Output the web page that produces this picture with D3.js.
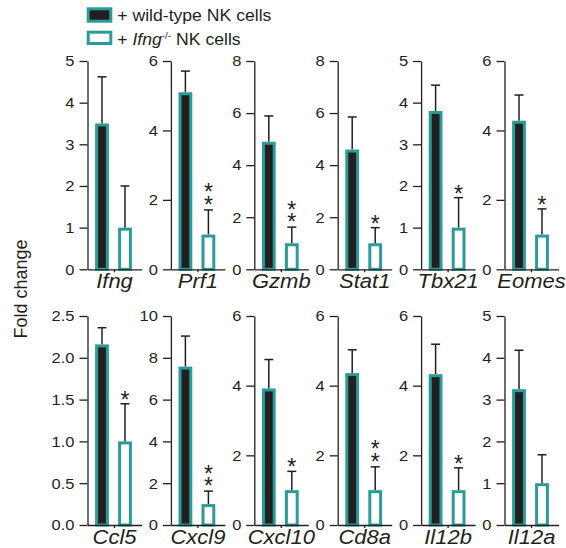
<!DOCTYPE html>
<html>
<head>
<meta charset="utf-8">
<script src="https://cdn.jsdelivr.net/npm/d3@7"></script>
<style>
  body { margin: 0; background: #fff; }
  svg text { font-family: 'Liberation Sans', Arial, sans-serif; fill: #231f20; }
  svg text.star { writing-mode: vertical-rl; text-orientation: upright; }
</style>
</head>
<body>
<div id="chart"></div>
<script>
'use strict'

// values
const genes = ['Ifng', 'Prf1', 'Gzmb', 'Stat1', 'Tbx21', 'Eomes', 'Ccl5', 'Cxcl9', 'Cxcl10', 'Cd8a', 'Il12b', 'Il12a']
const wtMean = [3.5, 5.1, 4.9, 4.6, 3.8, 4.28, 2.16, 7.58, 3.92, 4.36, 4.33, 3.25]
const wtErr = [1.12, 0.61, 0.99, 1.25, 0.62, 0.74, 0.2, 1.46, 0.83, 0.67, 0.86, 0.93]
const koMean = [1, 1, 1, 1, 1, 1, 1, 1, 1, 1, 1, 1]
const koErr = [1.0, 0.71, 0.62, 0.6, 0.72, 0.74, 0.45, 0.62, 0.54, 0.67, 0.64, 0.68]
const yMax = [5, 6, 8, 8, 5, 6, 2.5, 10, 6, 6, 6, 5]
const yStep = [1, 2, 2, 2, 1, 2, 0.5, 2, 2, 2, 2, 1]
const stars = ['', '**', '**', '*', '*', '*', '*', '**', '*', '**', '*', '']
const groups = ['wt', 'ko']

const teal = '#2a9c98'
const dark = '#231f20'
const stretchK = 1.1

const width = 566
const height = 548
const rows = [{ top: 61, bottom: 269.3 }, { top: 316, bottom: 525 }]
const colX = (c) => 87.5 + c * 83.4
const panelW = 54
const starSize = 23

const svg = d3.select('#chart')
  .append('svg')
  .attr('width', width)
  .attr('height', height)

// the figure text is a bit wider than plain Arial
function stretch (sel, k = stretchK) {
  sel.each(function () {
    const w = this.getComputedTextLength()
    d3.select(this).attr('textLength', w * k).attr('lengthAdjust', 'spacingAndGlyphs')
  })
}

genes.forEach((gene, i) => {
  const row = rows[Math.floor(i / 6)]
  const x0 = colX(i % 6)
  const g = svg.append('g').attr('transform', `translate(${x0}, 0)`)

  const y = d3.scaleLinear().domain([0, yMax[i]]).range([row.bottom, row.top])
  const xBand = d3.scaleBand().domain(groups).range([3, 49]).paddingInner(0.4).paddingOuter(0.2)
  const xGene = d3.scaleBand().domain([gene]).range([0, panelW])

  const yAxis = d3.axisLeft(y)
    .tickValues(d3.range(0, yMax[i] + yStep[i] / 2, yStep[i]))
    .tickFormat(d3.format(yStep[i] < 1 ? '.1f' : 'd'))
    .tickSize(8)
    .tickSizeOuter(0)
    .tickPadding(5)

  const xAxis = d3.axisBottom(xGene)
    .tickSize(3)
    .tickSizeOuter(0)
    .tickPadding(1.8)

  const bars = [
    { key: 'wt', mean: wtMean[i], err: wtErr[i] },
    { key: 'ko', mean: koMean[i], err: koErr[i] }
  ]

  // error bars (upper half only)
  const eb = g.selectAll('.err').data(bars).enter().append('g').attr('class', 'err')
  eb.append('line')
    .attr('x1', (d) => xBand(d.key) + xBand.bandwidth() / 2)
    .attr('x2', (d) => xBand(d.key) + xBand.bandwidth() / 2)
    .attr('y1', (d) => y(d.mean))
    .attr('y2', (d) => y(d.mean + d.err))
  eb.append('line')
    .attr('x1', (d) => xBand(d.key) + xBand.bandwidth() / 2 - 4.5)
    .attr('x2', (d) => xBand(d.key) + xBand.bandwidth() / 2 + 4.5)
    .attr('y1', (d) => y(d.mean + d.err))
    .attr('y2', (d) => y(d.mean + d.err))
  eb.selectAll('line').attr('stroke', dark).attr('stroke-width', 1.5)

  g.selectAll('.bar').data(bars).enter().append('rect')
    .attr('class', 'bar')
    .attr('x', (d) => xBand(d.key) + 1.5)
    .attr('width', xBand.bandwidth() - 3)
    .attr('y', (d) => y(d.mean) + 1.5)
    .attr('height', (d) => y(0) - y(d.mean) - 1.5)
    .attr('fill', (d) => d.key === 'wt' ? dark : '#fff')
    .attr('stroke', teal)
    .attr('stroke-width', 3)

  // significance stars over the knockout bar, stacked in one vertical text
  if (stars[i]) {
    const ko = bars[1]
    const capY = y(ko.mean + ko.err)
    const n = stars[i].length
    const lowCenter = capY - (n === 2 ? 11 : 9.5)
    const gap = 12
    // glyph ink centre sits ~0.33em below the start of its vertical cell
    const topY = lowCenter - (n - 1) * gap - 0.33 * starSize
    g.append('text')
      .attr('class', 'star')
      .attr('x', xBand('ko') + xBand.bandwidth() / 2)
      .attr('y', topY)
      .attr('font-size', starSize)
      .style('letter-spacing', `${gap - 1.117 * starSize}px`)
      .text(stars[i])
  }

  const ya = g.append('g').call(yAxis)
  const xa = g.append('g').attr('transform', `translate(0, ${row.bottom})`).call(xAxis)

  for (const a of [ya, xa]) {
    a.select('.domain').attr('stroke', dark).attr('stroke-width', 1.3)
    a.selectAll('.tick line').attr('stroke', dark).attr('stroke-width', 1.3)
    a.selectAll('text').attr('fill', dark).attr('font-family', null)
  }
  ya.selectAll('text').attr('font-size', 15).call(stretch)
  xa.selectAll('text').attr('font-size', 20).attr('font-style', 'italic').call(stretch)
})

// y title
svg.append('text')
  .attr('transform', 'translate(26.5, 289) rotate(-90)')
  .attr('text-anchor', 'middle')
  .attr('font-size', 18)
  .text('Fold change')

// legend
const legend = svg.append('g')
legend.append('rect')
  .attr('x', 88.2).attr('y', 8.8).attr('width', 22.6).attr('height', 12.4)
  .attr('fill', dark).attr('stroke', teal).attr('stroke-width', 3)
legend.append('rect')
  .attr('x', 88.2).attr('y', 32.2).attr('width', 22.6).attr('height', 11.3)
  .attr('fill', '#fff').attr('stroke', teal).attr('stroke-width', 3)
legend.append('text')
  .attr('x', 117.3).attr('y', 21)
  .attr('font-size', 16)
  .text('+ wild-type NK cells')
  .call(stretch)
const t2 = legend.append('text')
  .attr('x', 117.3).attr('y', 45)
  .attr('font-size', 16)
t2.append('tspan').text('+ ')
t2.append('tspan').attr('font-style', 'italic').text('Ifng')
t2.append('tspan').attr('font-size', 9).attr('dy', -6).text('-/-')
t2.append('tspan').attr('dy', 6).text(' NK cells')
t2.call(stretch)
</script>
</body>
</html>
